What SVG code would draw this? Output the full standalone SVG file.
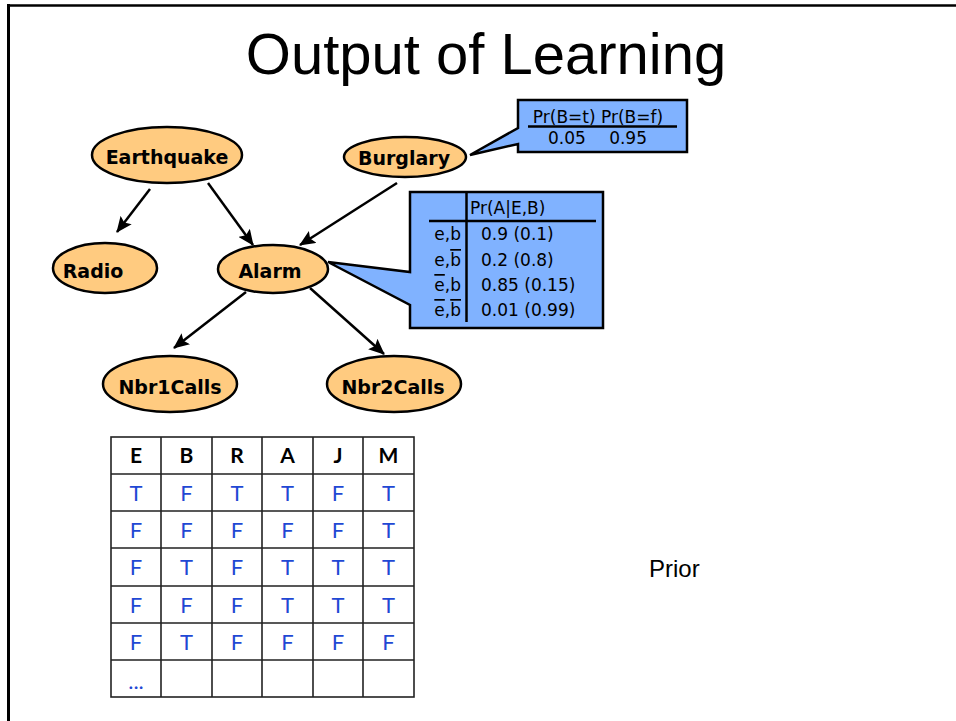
<svg xmlns="http://www.w3.org/2000/svg" width="956" height="721" viewBox="0 0 956 721">
  <style>
    .title { font-family: "Liberation Sans", Arial, sans-serif; font-size: 58px; fill: #000; }
    .prior { font-family: "Liberation Sans", Arial, sans-serif; font-size: 24px; fill: #000; }
    .node ellipse { fill: #FFCB80; stroke: #000; stroke-width: 2.5; }
    .node text { font-family: "Comic Sans MS", "DejaVu Sans", sans-serif; font-weight: bold; font-size: 19px; fill: #000; text-anchor: middle; }
    .edge { stroke: #000; stroke-width: 2.5; fill: none; marker-end: url(#arrow); }
    .callout { fill: #80B2FF; stroke: #000; stroke-width: 2.5; stroke-linejoin: miter; }
    .cpt { font-family: "Comic Sans MS", "DejaVu Sans", sans-serif; font-size: 17px; fill: #000; }
    .rule { stroke: #000; stroke-width: 2.5; }
    .grid { stroke: #222; stroke-width: 1.6; fill: none; }
    .hdr { font-family: Lato, "Liberation Sans", sans-serif; font-weight: bold; font-size: 21px; fill: #000; text-anchor: middle; }
    .val { font-family: Lato, "Liberation Sans", sans-serif; font-size: 22px; fill: #1F48D4; text-anchor: middle; }
    .ob { text-decoration: overline; }
  </style>
  <defs>
    <marker id="arrow" markerUnits="userSpaceOnUse" markerWidth="16" markerHeight="14" refX="15" refY="7" orient="auto">
      <path d="M0,0 L16,7 L0,14 L3,7 Z" fill="#000"/>
    </marker>
  </defs>

  <!-- slide frame -->
  <line x1="7" y1="5.5" x2="956" y2="5.5" stroke="#000" stroke-width="2.5"/>
  <line x1="8.5" y1="4" x2="8.5" y2="721" stroke="#000" stroke-width="3"/>

  <text class="title" x="486" y="74" text-anchor="middle">Output of Learning</text>

  <!-- connectors -->
  <g id="edges">
    <line class="edge" x1="150" y1="189" x2="117" y2="232"/>
    <line class="edge" x1="208" y1="183" x2="253" y2="245"/>
    <line class="edge" x1="397" y1="183" x2="300" y2="245"/>
    <line class="edge" x1="246" y1="292" x2="174" y2="348"/>
    <line class="edge" x1="310" y1="288" x2="384" y2="354"/>
  </g>

  <!-- network nodes -->
  <g id="earthquake" class="node">
    <ellipse cx="167" cy="155" rx="75" ry="28"/>
    <text x="167" y="164">Earthquake</text>
  </g>
  <g id="burglary" class="node">
    <ellipse cx="405" cy="157" rx="61" ry="20"/>
    <text x="404" y="165">Burglary</text>
  </g>
  <g id="radio" class="node">
    <ellipse cx="105" cy="268" rx="52" ry="25"/>
    <text x="93" y="278">Radio</text>
  </g>
  <g id="alarm" class="node">
    <ellipse cx="273" cy="269" rx="55" ry="24"/>
    <text x="270" y="278">Alarm</text>
  </g>
  <g id="nbr1calls" class="node">
    <ellipse cx="170" cy="384" rx="67" ry="28"/>
    <text x="170" y="394">Nbr1Calls</text>
  </g>
  <g id="nbr2calls" class="node">
    <ellipse cx="394" cy="384" rx="67" ry="28"/>
    <text x="393" y="394">Nbr2Calls</text>
  </g>

  <!-- prior table for Burglary -->
  <g id="cpt-burglary">
    <path class="callout" d="M518,100 H687 V152 H518 V144 L470,155 L518,128 Z"/>
    <text class="cpt" x="598" y="123" text-anchor="middle">Pr(B=t) Pr(B=f)</text>
    <line class="rule" x1="528" y1="126.5" x2="677" y2="126.5"/>
    <text class="cpt" x="548" y="144">0.05</text>
    <text class="cpt" x="647" y="144" text-anchor="end">0.95</text>
  </g>

  <!-- conditional table for Alarm -->
  <g id="cpt-alarm">
    <path class="callout" d="M410,192 H603 V328 H410 V305 L328,262 L410,272 Z"/>
    <line class="rule" x1="466.5" y1="193" x2="466.5" y2="322"/>
    <line class="rule" x1="429" y1="221" x2="596" y2="221"/>
    <text class="cpt" x="470" y="214">Pr(A|E,B)</text>
    <text class="cpt" x="461" y="240" text-anchor="end">e,b</text>
    <text class="cpt" x="461" y="266" text-anchor="end">e,<tspan class="ob">b</tspan></text>
    <text class="cpt" x="461" y="291" text-anchor="end"><tspan class="ob">e</tspan>,b</text>
    <text class="cpt" x="461" y="316" text-anchor="end"><tspan class="ob">e</tspan>,<tspan class="ob">b</tspan></text>
    <text class="cpt" x="481" y="240">0.9 (0.1)</text>
    <text class="cpt" x="481" y="266">0.2 (0.8)</text>
    <text class="cpt" x="481" y="291">0.85 (0.15)</text>
    <text class="cpt" x="481" y="316">0.01 (0.99)</text>
  </g>

  <!-- training data -->
  <g id="data-table">
    <rect class="grid" x="111" y="437" width="303" height="260"/>
    <path class="grid" d="M161,437 V697 M212,437 V697 M262,437 V697 M313,437 V697 M363,437 V697
                          M111,474 H414 M111,511 H414 M111,548 H414 M111,586 H414 M111,623 H414 M111,660 H414"/>
    <text class="hdr" x="136" y="463">E</text>
    <text class="hdr" x="186.5" y="463">B</text>
    <text class="hdr" x="237" y="463">R</text>
    <text class="hdr" x="287.5" y="463">A</text>
    <text class="hdr" x="338" y="463">J</text>
    <text class="hdr" x="388.5" y="463">M</text>

    <text class="val" x="136" y="501">T</text>
    <text class="val" x="186.5" y="501">F</text>
    <text class="val" x="237" y="501">T</text>
    <text class="val" x="287.5" y="501">T</text>
    <text class="val" x="338" y="501">F</text>
    <text class="val" x="388.5" y="501">T</text>

    <text class="val" x="136" y="538">F</text>
    <text class="val" x="186.5" y="538">F</text>
    <text class="val" x="237" y="538">F</text>
    <text class="val" x="287.5" y="538">F</text>
    <text class="val" x="338" y="538">F</text>
    <text class="val" x="388.5" y="538">T</text>

    <text class="val" x="136" y="575">F</text>
    <text class="val" x="186.5" y="575">T</text>
    <text class="val" x="237" y="575">F</text>
    <text class="val" x="287.5" y="575">T</text>
    <text class="val" x="338" y="575">T</text>
    <text class="val" x="388.5" y="575">T</text>

    <text class="val" x="136" y="613">F</text>
    <text class="val" x="186.5" y="613">F</text>
    <text class="val" x="237" y="613">F</text>
    <text class="val" x="287.5" y="613">T</text>
    <text class="val" x="338" y="613">T</text>
    <text class="val" x="388.5" y="613">T</text>

    <text class="val" x="136" y="650">F</text>
    <text class="val" x="186.5" y="650">T</text>
    <text class="val" x="237" y="650">F</text>
    <text class="val" x="287.5" y="650">F</text>
    <text class="val" x="338" y="650">F</text>
    <text class="val" x="388.5" y="650">F</text>

    <text class="val" x="136" y="689">...</text>
  </g>

  <text class="prior" x="649" y="577">Prior</text>
</svg>
